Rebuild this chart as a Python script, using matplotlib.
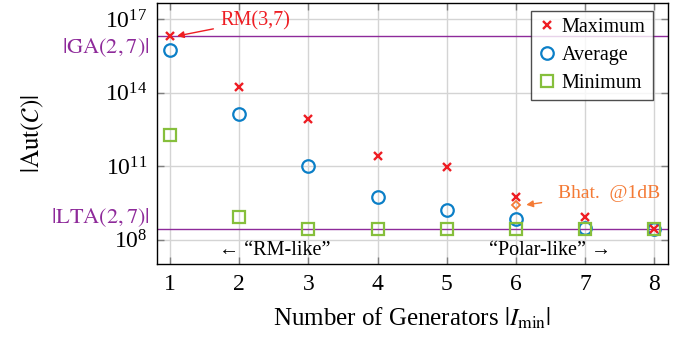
import numpy as np
import matplotlib
matplotlib.use("Agg")
import matplotlib.pyplot as plt

plt.rcParams['font.family'] = ['Liberation Serif', 'DejaVu Serif']
plt.rcParams['mathtext.fontset'] = 'stix'

# number of generators |I_min|
n_gen = [1, 2, 3, 4, 5, 6, 7, 8]
# log10 |Aut(C)|
log_max = [16.32, 14.22, 12.92, 11.42, 10.96, 9.76, 8.92, 8.43]
log_avg = [15.75, 13.12, 11.01, 9.73, 9.22, 8.84, 8.49, 8.43]
log_min = [12.28, 8.92, 8.43, 8.43, 8.43, 8.43, 8.43, 8.43]
bhat_x = [6]
bhat_log = [9.42]

ga_27 = 2**7 * 2**21 * 1 * 3 * 7 * 15 * 31 * 63 * 127   # |GA(2,7)|
lta_27 = 2**28                                          # |LTA(2,7)|

c_red = '#ee1d23'
c_blue = '#0b7fc7'
c_green = '#86bf3c'
c_orange = '#f47a35'
c_purple = '#8e2a9a'

fig = plt.figure(figsize=(6.81, 3.37), dpi=100)
ax = fig.add_axes([0.2305, 0.2166, 0.7505, 0.7744])
ax.set_yscale('log')

ax.axhline(ga_27, color=c_purple, lw=1.0, zorder=1)
ax.axhline(lta_27, color=c_purple, lw=1.0, zorder=1)

ax.plot(n_gen, 10**np.array(log_max), 'x', color=c_red, ms=6, mew=1.7,
        label='Maximum', zorder=4)
ax.plot(n_gen, 10**np.array(log_avg), 'o', mfc='none', mec=c_blue, ms=9,
        mew=1.6, label='Average', zorder=3)
ax.plot(n_gen, 10**np.array(log_min), 's', mfc='none', mec=c_green, ms=9,
        mew=1.6, label='Minimum', zorder=3)
ax.plot(bhat_x, 10**np.array(bhat_log), 'D', mfc='none', mec=c_orange, ms=4.5,
        mew=1.3, zorder=4)

ax.set_xlim(0.81, 8.2)
ax.set_ylim(1e7, 10**17.67)
ax.set_xticks(n_gen)
ax.set_yticks([1e8, 1e11, 1e14, 1e17])
ax.minorticks_off()
ax.tick_params(axis='both', labelsize=17, direction='in', length=5, width=1,
               color='#808080', top=True, right=True, pad=7)
ax.grid(True, color='#d4d4d4', lw=1.0)
ax.set_axisbelow(True)
for s in ax.spines.values():
    s.set_linewidth(1.0)

ax.set_xlabel(r'Number of Generators $|I_{\min}|$', fontsize=18, labelpad=8)
ax.set_ylabel(r'$|\mathrm{Aut}(\mathcal{C})|$', fontsize=18)
ax.yaxis.set_label_coords(-0.218, 0.5)

# labels of the two reference lines, left of the axis
ax.text(-0.015, ga_27, r'$|\mathrm{GA}(2,7)|$', color=c_purple, fontsize=16,
        transform=ax.get_yaxis_transform(), ha='right', va='top')
ax.text(-0.015, lta_27, r'$|\mathrm{LTA}(2,7)|$', color=c_purple, fontsize=16,
        transform=ax.get_yaxis_transform(), ha='right', va='bottom')

ax.annotate('RM(3,7)', xy=(1.1, ga_27), xytext=(2.23, 10**16.95),
            color=c_red, fontsize=14.5, ha='center', va='center',
            arrowprops=dict(arrowstyle='-|>', color=c_red, lw=1.0,
                            shrinkA=3, shrinkB=0, mutation_scale=10))
ax.annotate('Bhat.  @1dB', xy=(6.15, 10**9.42), xytext=(7.35, 10**9.9),
            color=c_orange, fontsize=14, ha='center', va='center',
            arrowprops=dict(arrowstyle='-|>', color=c_orange, lw=1.0,
                            shrinkA=10, shrinkB=0, mutation_scale=10))

ax.text(2.52, 10**7.55, '\u2190 \u201cRM-like\u201d', fontsize=14.5,
        ha='center', va='center')
ax.text(6.49, 10**7.55, '\u201cPolar-like\u201d \u2192', fontsize=14.5,
        ha='center', va='center')

leg = ax.legend(loc='upper right', bbox_to_anchor=(0.97, 0.97), fontsize=14.5,
                frameon=True, fancybox=False, edgecolor='#222222',
                handlelength=0.9, handletextpad=0.3, borderpad=0.35,
                labelspacing=0.45, borderaxespad=0.0)
leg.get_frame().set_linewidth(1.0)

fig.savefig('out.png', dpi=100)
